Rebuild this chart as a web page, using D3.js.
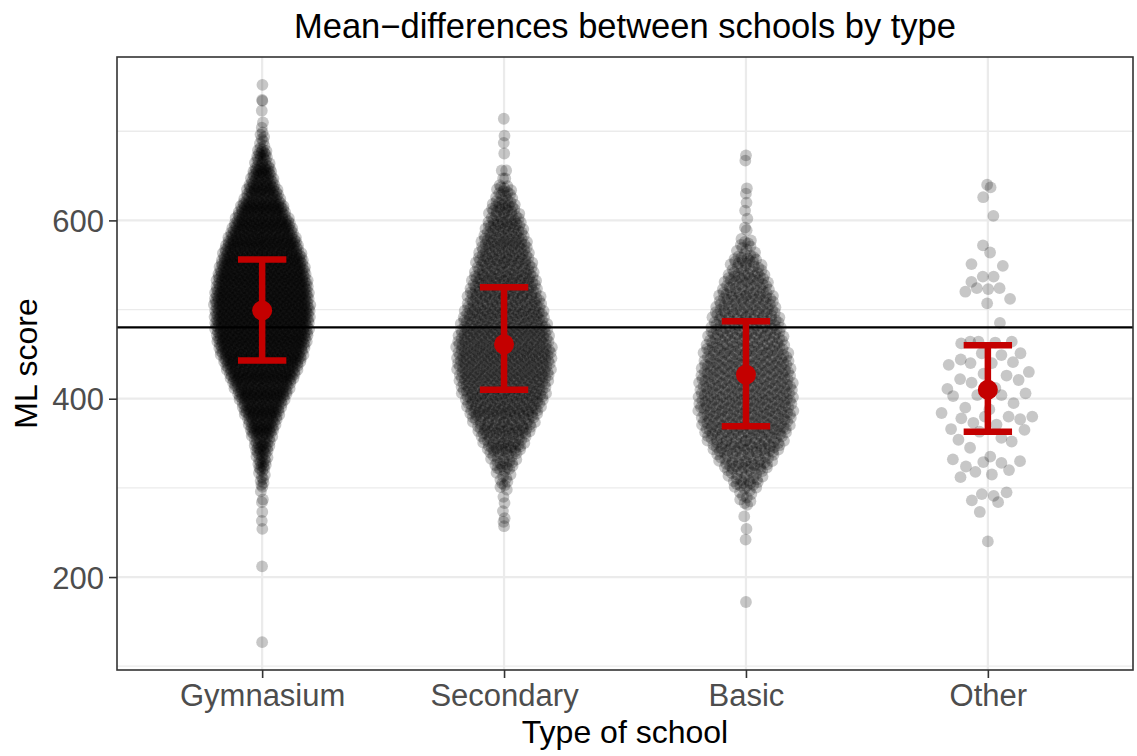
<!DOCTYPE html>
<html>
<head>
<meta charset="utf-8">
<script src="https://cdn.jsdelivr.net/npm/d3@7"></script>
<style>
  body { margin: 0; background: #ffffff; }
  svg { display: block; }
  text { font-family: "Liberation Sans", Arial, Helvetica, sans-serif; }
</style>
</head>
<body>
<svg id="chart" width="1137" height="756"></svg>
<script>
// ---- data ---------------------------------------------------------------
const schoolTypes = ["Gymnasium", "Secondary", "Basic", "Other"];

// Score bins (lower edges, 20 points wide) used for the dense bodies of the swarms
const bodyBinStarts = [280, 300, 320, 340, 360, 380, 400, 420, 440, 460, 480,
                       500, 520, 540, 560, 580, 600, 620, 640, 660, 680];
const binWidth = 20;

// Number of students per score bin
const gymnasiumCounts = [0, 9, 19, 30, 53, 76, 104, 136, 166, 183, 189,
                         189, 181, 168, 147, 121, 95, 62, 42, 23, 8];
const secondaryCounts = [0, 10, 23, 44, 62, 81, 91, 100, 104, 99, 88,
                         78, 70, 60, 52, 42, 31, 18, 0, 0, 0];
const basicCounts     = [10, 26, 45, 65, 78, 83, 81, 78, 72, 65, 57,
                         50, 39, 27, 12, 0, 0, 0, 0, 0, 0];

// Individual scores in the sparse tails
const gymnasiumTail = [127, 212, 254, 263, 273, 284, 287, 296, 704, 710, 723, 734, 735, 752];
const secondaryTail = [257, 262, 266, 274, 283, 290, 298, 647, 647, 656, 656, 675, 687, 695, 714];
const basicTail     = [172, 242, 254, 268, 589, 592, 602, 611, 620, 630, 636, 667, 673];

// All scores of the small "Other" group
const otherScores = [
  640, 637, 626, 605, 572, 564, 551, 549, 537, 537, 531, 524, 524, 520, 523, 512, 507, 485,
  464, 464, 464, 463, 462,
  451, 451, 449, 444, 441, 440, 440, 438,
  430, 428, 426, 421, 422,
  418, 411, 412, 404, 406, 404, 403,
  395, 388, 390, 384, 380, 380, 380, 378, 377,
  371, 373, 363, 365, 366,
  354, 352, 356, 345,
  335, 332, 330, 329, 328,
  318, 312, 324, 315, 320,
  295, 293, 291, 286, 284, 273, 240
];

// Group means with error-bar limits
const groupMeans = [499, 461, 427, 410];
const groupLower = [443, 410, 369, 363];
const groupUpper = [556, 525, 487, 460];
const overallMean = 480;

const yMajorTicks = [200, 400, 600];
const yMinorTicks = [100, 300, 500, 700];

// ---- helpers --------------------------------------------------------------
function expandBins(counts, tail) {
  const out = tail.slice();
  counts.forEach((n, i) => {
    for (let k = 0; k < n; k++) out.push(bodyBinStarts[i] + binWidth * (k + 0.5) / n);
  });
  return out;
}

// van der Corput sequence (base 2)
function vanDerCorput(i) {
  let q = 0, bk = 0.5, n = i;
  while (n > 0) { q += (n % 2) * bk; n = Math.floor(n / 2); bk /= 2; }
  return q;
}

// quasirandom horizontal offsets in [-1, 1], scaled by the kernel density
function quasiOffsets(vals) {
  const n = vals.length;
  const sorted = vals.slice().sort(d3.ascending);
  const sd = d3.deviation(vals);
  const iqr = d3.quantile(sorted, 0.75) - d3.quantile(sorted, 0.25);
  const bw = 0.9 * Math.min(sd, iqr / 1.34) * Math.pow(n, -0.2);
  const dens = vals.map(v => {
    let s = 0;
    for (const u of vals) { const z = (v - u) / bw; s += Math.exp(-0.5 * z * z); }
    return s;
  });
  const maxD = d3.max(dens);
  const order = d3.range(n).sort((a, b) => (vals[a] - vals[b]) || (a - b));
  const rank = new Array(n);
  order.forEach((idx, r) => { rank[idx] = r + 1; });
  return vals.map((v, i) => (dens[i] / maxD) * (vanDerCorput(rank[i]) - 0.5) * 2);
}

const groupScores = [
  expandBins(gymnasiumCounts, gymnasiumTail),
  expandBins(secondaryCounts, secondaryTail),
  expandBins(basicCounts, basicTail),
  otherScores.slice()
];

// ---- layout -----------------------------------------------------------------
const panel = { left: 117, right: 1133, top: 57, bottom: 670 };
const svg = d3.select("#chart");

const allScores = groupScores.flat();
const [lo, hi] = d3.extent(allScores);
const pad = (hi - lo) * 0.05;

const x = d3.scalePoint().domain(schoolTypes).range([panel.left, panel.right]).padding(0.6);
const y = d3.scaleLinear().domain([lo - pad, hi + pad]).range([panel.bottom, panel.top]);

const swarmHalfWidth = 0.2 * x.step();

// panel background
svg.append("rect")
  .attr("x", panel.left).attr("y", panel.top)
  .attr("width", panel.right - panel.left).attr("height", panel.bottom - panel.top)
  .attr("fill", "#ffffff");

// grid
const grid = svg.append("g");
grid.selectAll("line.minor").data(yMinorTicks.filter(t => y(t) >= panel.top && y(t) <= panel.bottom))
  .join("line")
  .attr("x1", panel.left).attr("x2", panel.right)
  .attr("y1", d => y(d)).attr("y2", d => y(d))
  .attr("stroke", "#ebebeb").attr("stroke-width", 1.3);
grid.selectAll("line.majorY").data(yMajorTicks)
  .join("line")
  .attr("x1", panel.left).attr("x2", panel.right)
  .attr("y1", d => y(d)).attr("y2", d => y(d))
  .attr("stroke", "#ebebeb").attr("stroke-width", 2.2);
grid.selectAll("line.majorX").data(schoolTypes)
  .join("line")
  .attr("x1", d => x(d)).attr("x2", d => x(d))
  .attr("y1", panel.top).attr("y2", panel.bottom)
  .attr("stroke", "#ebebeb").attr("stroke-width", 2.2);

// points
const pts = svg.append("g");
groupScores.forEach((vals, gi) => {
  const offs = quasiOffsets(vals);
  const cx = x(schoolTypes[gi]);
  pts.append("g").selectAll("circle").data(vals)
    .join("circle")
    .attr("cx", (d, i) => cx + offs[i] * swarmHalfWidth)
    .attr("cy", d => y(d))
    .attr("r", 5.9)
    .attr("fill", "#000000")
    .attr("fill-opacity", 0.22);
});

// overall mean line
svg.append("line")
  .attr("x1", panel.left).attr("x2", panel.right)
  .attr("y1", y(overallMean)).attr("y2", y(overallMean))
  .attr("stroke", "#000000").attr("stroke-width", 2.3);

// error bars and means
const red = "#c40000";
const capHalf = 0.1 * x.step();
const eb = svg.append("g");
schoolTypes.forEach((t, i) => {
  const cx = x(t);
  eb.append("line").attr("x1", cx).attr("x2", cx)
    .attr("y1", y(groupLower[i])).attr("y2", y(groupUpper[i]))
    .attr("stroke", red).attr("stroke-width", 6.5);
  [groupLower[i], groupUpper[i]].forEach(v => {
    eb.append("line").attr("x1", cx - capHalf).attr("x2", cx + capHalf)
      .attr("y1", y(v)).attr("y2", y(v))
      .attr("stroke", red).attr("stroke-width", 6.5);
  });
  eb.append("circle").attr("cx", cx).attr("cy", y(groupMeans[i]))
    .attr("r", 10).attr("fill", red);
});

// panel border
svg.append("rect")
  .attr("x", panel.left).attr("y", panel.top)
  .attr("width", panel.right - panel.left).attr("height", panel.bottom - panel.top)
  .attr("fill", "none").attr("stroke", "#333333").attr("stroke-width", 1.6);

// axes
const yAxis = svg.append("g")
  .attr("transform", `translate(${panel.left},0)`)
  .call(d3.axisLeft(y).tickValues(yMajorTicks).tickSize(8).tickPadding(5));
const xAxis = svg.append("g")
  .attr("transform", `translate(0,${panel.bottom})`)
  .call(d3.axisBottom(x).tickSize(8).tickPadding(6));
[yAxis, xAxis].forEach(a => {
  a.select(".domain").remove();
  a.selectAll(".tick line").attr("stroke", "#333333").attr("stroke-width", 1.6);
  a.selectAll(".tick text")
    .attr("fill", "#4d4d4d")
    .style("font-size", "31px")
    .style("font-family", "'Liberation Sans', Arial, sans-serif");
});
yAxis.selectAll(".tick text").attr("dy", "0.36em");
xAxis.selectAll(".tick text").attr("dy", "0.71em");

// titles
svg.append("text")
  .attr("x", (panel.left + panel.right) / 2).attr("y", 38)
  .attr("text-anchor", "middle")
  .style("font-size", "34.5px").attr("fill", "#000000")
  .text("Mean\u2212differences between schools by type");

svg.append("text")
  .attr("x", (panel.left + panel.right) / 2).attr("y", 743)
  .attr("text-anchor", "middle")
  .style("font-size", "32px").attr("fill", "#000000")
  .text("Type of school");

svg.append("text")
  .attr("transform", `translate(37,${(panel.top + panel.bottom) / 2}) rotate(-90)`)
  .attr("text-anchor", "middle")
  .style("font-size", "32px").attr("fill", "#000000")
  .text("ML score");
</script>
</body>
</html>
